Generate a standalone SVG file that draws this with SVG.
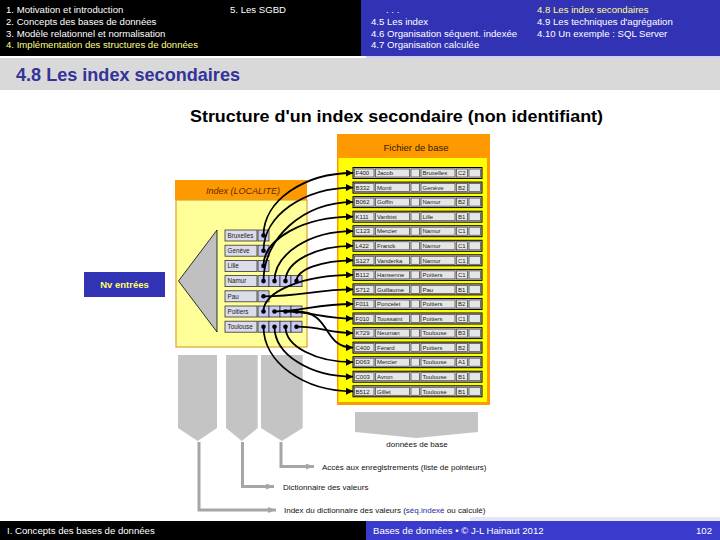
<svg xmlns="http://www.w3.org/2000/svg" xmlns:xlink="http://www.w3.org/1999/xlink" width="720" height="540" viewBox="0 0 720 540">
<style>
text{font-family:"Liberation Sans",Arial,sans-serif}
.hd{font-size:9.6px;fill:#ffffff}
.hy{font-size:9.6px;fill:#ffff88}
.ft{font-size:9.6px;fill:#ffffff}
.cell{font-size:6px;fill:#1a1a1a}
.ilab{font-size:6.3px;fill:#1a1a1a}
.lab{font-size:8px;fill:#111}
.con{fill:none;stroke:#000;stroke-width:1.8;marker-end:url(#ah)}
.gcon{fill:none;stroke:#a6a6a6;stroke-width:3;marker-end:url(#gah)}
.pent{fill:#c4c4c4}
.pc{fill:#c8c8f4;stroke:#333;stroke-width:0.8}
.dot{fill:#000}
</style>
<defs>
<marker id="ah" viewBox="0 0 7 7" refX="7" refY="3.5" markerWidth="7" markerHeight="7" markerUnits="userSpaceOnUse" orient="auto"><path d="M0,0 L7,3.5 L0,7 z" fill="#000"/></marker>
<marker id="gah" viewBox="0 0 8 6" refX="8" refY="3" markerWidth="8" markerHeight="6" markerUnits="userSpaceOnUse" orient="auto"><path d="M0,0 L8,3 L0,6 z" fill="#a6a6a6"/></marker>
<g id="rec">
<rect x="353" y="-5.5" width="129" height="11" fill="#c8c8c8" stroke="#000" stroke-width="1"/>
<rect x="354.5" y="-4" width="19.5" height="8" fill="#e6e6e6" stroke="#444" stroke-width="0.7"/>
<rect x="375.5" y="-4" width="34" height="8" fill="#e6e6e6" stroke="#444" stroke-width="0.7"/>
<rect x="411" y="-4" width="8.5" height="8" fill="#e6e6e6" stroke="#444" stroke-width="0.7"/>
<rect x="421" y="-4" width="34" height="8" fill="#e6e6e6" stroke="#444" stroke-width="0.7"/>
<rect x="456.5" y="-4" width="11" height="8" fill="#e6e6e6" stroke="#444" stroke-width="0.7"/>
<rect x="469" y="-4" width="11.5" height="8" fill="#e6e6e6" stroke="#444" stroke-width="0.7"/>
</g>
<rect id="ilb" x="225" y="-5.5" width="32" height="11" fill="#dcdcea" stroke="#333" stroke-width="0.8"/>
<g id="p1"><rect class="pc" x="258" y="-5.5" width="11" height="11"/><circle class="dot" cx="263.5" cy="0" r="2.3"/></g>
<g id="p4">
<rect class="pc" x="258" y="-5.5" width="11" height="11"/><circle class="dot" cx="263.5" cy="0" r="2.3"/>
<rect class="pc" x="269" y="-5.5" width="11" height="11"/><circle class="dot" cx="274.5" cy="0" r="2.3"/>
<rect class="pc" x="280" y="-5.5" width="11" height="11"/><circle class="dot" cx="285.5" cy="0" r="2.3"/>
<rect class="pc" x="291" y="-5.5" width="11" height="11"/><circle class="dot" cx="296.5" cy="0" r="2.3"/>
</g>
</defs>
<rect width="720" height="540" fill="#ffffff"/>
<g id="header">
<rect x="0" y="0" width="361" height="56" fill="#000"/>
<rect x="361" y="0" width="359" height="56" fill="#3232b4"/>
<rect x="366" y="56" width="354" height="2" fill="#d0d0f4"/>
<text class="hd" x="6" y="12.5">1. Motivation et introduction</text>
<text class="hd" x="6" y="24.5">2. Concepts des bases de données</text>
<text class="hd" x="6" y="36.5">3. Modèle relationnel et normalisation</text>
<text class="hy" x="6" y="48">4. Implémentation des structures de données</text>
<text class="hd" x="230" y="12.5">5. Les SGBD</text>
<text class="hd" x="386" y="12.5">. . .</text>
<text class="hd" x="371" y="24.5">4.5 Les index</text>
<text class="hd" x="371" y="36.5">4.6 Organisation séquent. indexée</text>
<text class="hd" x="371" y="48">4.7 Organisation calculée</text>
<text class="hy" x="537" y="12.5">4.8 Les index secondaires</text>
<text class="hd" x="537" y="24.5">4.9 Les techniques d'agrégation</text>
<text class="hd" x="537" y="36.5">4.10 Un exemple : SQL Server</text>
</g>
<g id="titlebar">
<rect x="0" y="58" width="720" height="32" fill="#d9d9d9"/>
<rect x="366" y="56" width="354" height="2" fill="#d0d0f4"/>
<text x="16" y="80.5" font-size="19" font-weight="bold" fill="#333399" textLength="224" lengthAdjust="spacingAndGlyphs">4.8 Les index secondaires</text>
</g>
<text id="subtitle" x="190" y="122" font-size="17" font-weight="bold" fill="#000" textLength="413" lengthAdjust="spacingAndGlyphs">Structure d'un index secondaire (non identifiant)</text>
<g id="fichier">
<rect x="337" y="134" width="153" height="271" fill="#ff9900"/>
<rect x="338.5" y="158" width="148.5" height="244" fill="#ffff00"/>
<text x="416" y="151" font-size="9.5" fill="#331a00" text-anchor="middle">Fichier de base</text>
</g>
<g id="index">
<rect x="175" y="180" width="132" height="20" fill="#ff9900"/>
<rect x="176" y="200" width="131" height="147" fill="#ffff99" stroke="#e0a030" stroke-width="1.2"/>
<text x="243" y="194" font-size="9" font-style="italic" fill="#5a2a00" text-anchor="middle">Index (LOCALITE)</text>
<polygon points="178.5,281 217,230 217,332" fill="#c0c0c0" stroke="#000" stroke-width="0.8"/>
</g>
<g id="nv-entrees">
<rect x="84" y="272" width="81" height="25" fill="#3232b4"/>
<text x="124.5" y="288" font-size="9.5" font-weight="bold" fill="#ffff66" text-anchor="middle">Nv entrées</text>
</g>
<g id="idx-Bruxelles" transform="translate(0,235.5)"><use xlink:href="#ilb"/><use xlink:href="#p1"/><text class="ilab" x="227.5" y="2.2">Bruxelles</text></g>
<g id="idx-Geneve" transform="translate(0,250.7)"><use xlink:href="#ilb"/><use xlink:href="#p1"/><text class="ilab" x="227.5" y="2.2">Genève</text></g>
<g id="idx-Lille" transform="translate(0,265.9)"><use xlink:href="#ilb"/><use xlink:href="#p1"/><text class="ilab" x="227.5" y="2.2">Lille</text></g>
<g id="idx-Namur" transform="translate(0,281.1)"><use xlink:href="#ilb"/><use xlink:href="#p4"/><text class="ilab" x="227.5" y="2.2">Namur</text></g>
<g id="idx-Pau" transform="translate(0,296.3)"><use xlink:href="#ilb"/><use xlink:href="#p1"/><text class="ilab" x="227.5" y="2.2">Pau</text></g>
<g id="idx-Poitiers" transform="translate(0,311.5)"><use xlink:href="#ilb"/><use xlink:href="#p4"/><text class="ilab" x="227.5" y="2.2">Poitiers</text></g>
<g id="idx-Toulouse" transform="translate(0,326.7)"><use xlink:href="#ilb"/><use xlink:href="#p4"/><text class="ilab" x="227.5" y="2.2">Toulouse</text></g>
<g id="rec-F400" transform="translate(0,173)"><use xlink:href="#rec"/><text class="cell" x="355.5" y="2.2">F400</text><text class="cell" x="377" y="2.2">Jacob</text><text class="cell" x="422.5" y="2.2">Bruxelles</text><text class="cell" x="458" y="2.2">C2</text></g>
<g id="rec-B332" transform="translate(0,187.6)"><use xlink:href="#rec"/><text class="cell" x="355.5" y="2.2">B332</text><text class="cell" x="377" y="2.2">Monti</text><text class="cell" x="422.5" y="2.2">Genève</text><text class="cell" x="458" y="2.2">B2</text></g>
<g id="rec-B062" transform="translate(0,202.1)"><use xlink:href="#rec"/><text class="cell" x="355.5" y="2.2">B062</text><text class="cell" x="377" y="2.2">Goffin</text><text class="cell" x="422.5" y="2.2">Namur</text><text class="cell" x="458" y="2.2">B2</text></g>
<g id="rec-K111" transform="translate(0,216.7)"><use xlink:href="#rec"/><text class="cell" x="355.5" y="2.2">K111</text><text class="cell" x="377" y="2.2">Vanbist</text><text class="cell" x="422.5" y="2.2">Lille</text><text class="cell" x="458" y="2.2">B1</text></g>
<g id="rec-C123" transform="translate(0,231.2)"><use xlink:href="#rec"/><text class="cell" x="355.5" y="2.2">C123</text><text class="cell" x="377" y="2.2">Mercier</text><text class="cell" x="422.5" y="2.2">Namur</text><text class="cell" x="458" y="2.2">C1</text></g>
<g id="rec-L422" transform="translate(0,245.8)"><use xlink:href="#rec"/><text class="cell" x="355.5" y="2.2">L422</text><text class="cell" x="377" y="2.2">Franck</text><text class="cell" x="422.5" y="2.2">Namur</text><text class="cell" x="458" y="2.2">C1</text></g>
<g id="rec-S127" transform="translate(0,260.3)"><use xlink:href="#rec"/><text class="cell" x="355.5" y="2.2">S127</text><text class="cell" x="377" y="2.2">Vanderka</text><text class="cell" x="422.5" y="2.2">Namur</text><text class="cell" x="458" y="2.2">C1</text></g>
<g id="rec-B112" transform="translate(0,274.9)"><use xlink:href="#rec"/><text class="cell" x="355.5" y="2.2">B112</text><text class="cell" x="377" y="2.2">Hansenne</text><text class="cell" x="422.5" y="2.2">Poitiers</text><text class="cell" x="458" y="2.2">C1</text></g>
<g id="rec-S712" transform="translate(0,289.4)"><use xlink:href="#rec"/><text class="cell" x="355.5" y="2.2">S712</text><text class="cell" x="377" y="2.2">Guillaume</text><text class="cell" x="422.5" y="2.2">Pau</text><text class="cell" x="458" y="2.2">B1</text></g>
<g id="rec-F011" transform="translate(0,304)"><use xlink:href="#rec"/><text class="cell" x="355.5" y="2.2">F011</text><text class="cell" x="377" y="2.2">Poncelet</text><text class="cell" x="422.5" y="2.2">Poitiers</text><text class="cell" x="458" y="2.2">B2</text></g>
<g id="rec-F010" transform="translate(0,318.5)"><use xlink:href="#rec"/><text class="cell" x="355.5" y="2.2">F010</text><text class="cell" x="377" y="2.2">Toussaint</text><text class="cell" x="422.5" y="2.2">Poitiers</text><text class="cell" x="458" y="2.2">C1</text></g>
<g id="rec-K729" transform="translate(0,333.1)"><use xlink:href="#rec"/><text class="cell" x="355.5" y="2.2">K729</text><text class="cell" x="377" y="2.2">Neuman</text><text class="cell" x="422.5" y="2.2">Toulouse</text><text class="cell" x="458" y="2.2">B3</text></g>
<g id="rec-C400" transform="translate(0,347.6)"><use xlink:href="#rec"/><text class="cell" x="355.5" y="2.2">C400</text><text class="cell" x="377" y="2.2">Férard</text><text class="cell" x="422.5" y="2.2">Poitiers</text><text class="cell" x="458" y="2.2">B2</text></g>
<g id="rec-D063" transform="translate(0,362.2)"><use xlink:href="#rec"/><text class="cell" x="355.5" y="2.2">D063</text><text class="cell" x="377" y="2.2">Mercier</text><text class="cell" x="422.5" y="2.2">Toulouse</text><text class="cell" x="458" y="2.2">A1</text></g>
<g id="rec-C003" transform="translate(0,376.7)"><use xlink:href="#rec"/><text class="cell" x="355.5" y="2.2">C003</text><text class="cell" x="377" y="2.2">Avron</text><text class="cell" x="422.5" y="2.2">Toulouse</text><text class="cell" x="458" y="2.2">B1</text></g>
<g id="rec-B512" transform="translate(0,391.3)"><use xlink:href="#rec"/><text class="cell" x="355.5" y="2.2">B512</text><text class="cell" x="377" y="2.2">Gillet</text><text class="cell" x="422.5" y="2.2">Toulouse</text><text class="cell" x="458" y="2.2">B1</text></g>
<g id="bars">
<polygon class="pent" points="178,355 217,355 217,428 197.7,441 178,428"/>
<polygon class="pent" points="226,355 257.7,355 257.7,428 241.8,441 226,428"/>
<polygon class="pent" points="261,355 302.7,355 302.7,428 281.8,441 261,428"/>
<polygon class="pent" points="355,412 478,412 478,432 416.5,438 355,432"/>
</g>
<g id="connectors">
<path class="con" d="M263.5 235.5 C263.5 201 303.6 173 353 173"/>
<path class="con" d="M263.5 250.7 C263.5 215.9 303.6 187.6 353 187.6"/>
<path class="con" d="M263.5 265.9 C263.5 238.8 303.6 216.7 353 216.7"/>
<path class="con" d="M263.5 281.1 C263.5 237.5 303.6 202.1 353 202.1"/>
<path class="con" d="M274.5 281.1 C274.5 253.6 309.7 231.2 353 231.2"/>
<path class="con" d="M285.5 281.1 C285.5 261.6 315.7 245.8 353 245.8"/>
<path class="con" d="M296.5 281.1 C296.5 269.6 321.8 260.3 353 260.3"/>
<path class="con" d="M263.5 296.3 C300 296.3 318 289.4 353 289.4"/>
<path class="con" d="M263.5 311.5 C263.5 291.3 303.6 274.9 353 274.9"/>
<path class="con" d="M274.5 311.5 C300 311.5 318 304 353 304"/>
<path class="con" d="M285.5 311.5 C312 311.5 322 318.5 353 318.5"/>
<path class="con" d="M296.5 311.5 C332 311.5 322 347.6 353 347.6"/>
<path class="con" d="M296.5 326.7 C320 326.7 330 333.1 353 333.1"/>
<path class="con" d="M285.5 326.7 C285.5 346.3 315.7 362.2 353 362.2"/>
<path class="con" d="M274.5 326.7 C274.5 354.3 309.7 376.7 353 376.7"/>
<path class="con" d="M263.5 326.7 C263.5 362.4 303.6 391.3 353 391.3"/>
<path class="gcon" d="M199 442 V510 H276"/>
<path class="gcon" d="M242.5 442 V486.5 H274"/>
<path class="gcon" d="M281 442 V466.5 H314"/>
</g>
<g id="labels">
<text class="lab" x="417" y="446.5" text-anchor="middle">données de base</text>
<text class="lab" x="322" y="469.5">Accès aux enregistrements (liste de pointeurs)</text>
<text class="lab" x="283" y="489.5">Dictionnaire des valeurs</text>
<text class="lab" x="284" y="512.5">Index du dictionnaire des valeurs (<tspan fill="#2a2aa0">séq.indexé</tspan> ou calculé)</text>
</g>
<g id="footer">
<rect x="470" y="517" width="250" height="4" fill="#e4e4fa"/>
<rect x="0" y="521" width="366" height="19" fill="#000"/>
<rect x="366" y="521" width="354" height="19" fill="#3a3acc"/>
<text class="ft" x="7" y="534">I. Concepts des bases de données</text>
<text class="ft" x="373" y="534">Bases de données • © J-L Hainaut 2012</text>
<text class="ft" x="712" y="534" text-anchor="end">102</text>
</g>
</svg>
